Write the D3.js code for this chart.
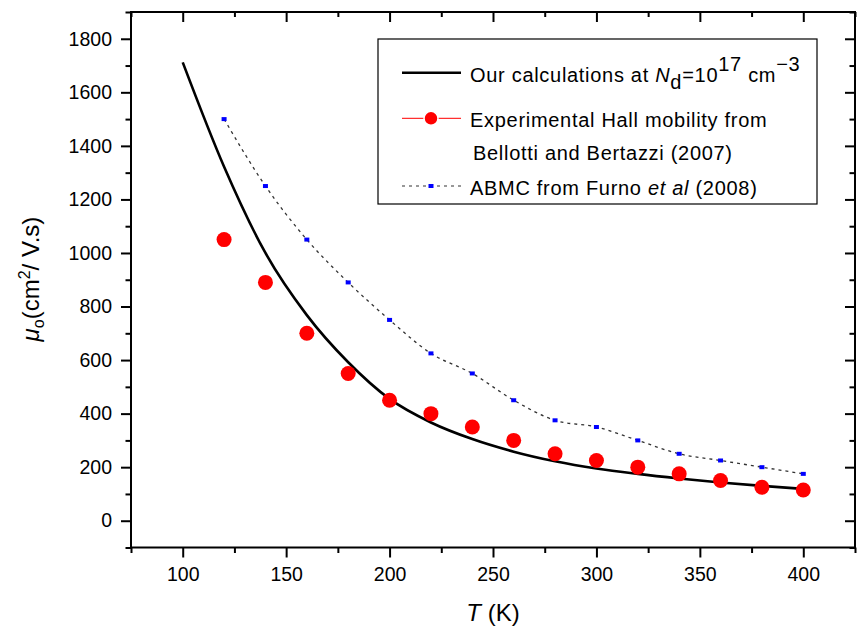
<!DOCTYPE html>
<html><head><meta charset="utf-8">
<script src="https://cdn.jsdelivr.net/npm/d3@7"></script>
<style>
body{margin:0;background:#fff}
text{font-family:"Liberation Sans",Arial,Helvetica,sans-serif;fill:#000}
</style>
</head><body>
<svg id="c" width="857" height="628"></svg>
<script>
// ---- data ----
const calcT  = [100,120,140,160,180,200,220,240,260,280,300,320,340,360,380,400];
const calcMu = [1712,1322,1000,768,592,455,367,305,258,222,195,175,158,143,130,119];
const hallT  = [120,140,160,180,200,220,240,260,280,300,320,340,360,380,400];
const hallMu = [1050,890,700,550,450,400,350,300,250,225,200,175,150,125,115];
const abmcT  = [120,140,160,180,200,220,240,260,280,300,320,340,360,380,400];
const abmcMu = [1500,1250,1050,890,750,625,550,450,375,350,300,250,225,200,175];
const xTicks = [100,150,200,250,300,350,400];
const xMinor = [75,125,175,225,275,325,375,425];
const yTicks = [0,200,400,600,800,1000,1200,1400,1600,1800];
const yMinor = [-100,100,300,500,700,900,1100,1300,1500,1700,1900];

const svg = d3.select("#c");
const L = 131, R = 855, T = 12, B = 547.5;
const x = d3.scaleLinear().domain([75,425]).range([L,R]);
const y = d3.scaleLinear().domain([-100,1900]).range([B,T]);

// axes
function styleAxis(g){ g.select(".domain").remove(); g.selectAll(".tick line").attr("stroke","#000").attr("stroke-width",2); }
const fs = "19.5px";
svg.append("g").attr("transform",`translate(0,${B})`)
  .call(d3.axisBottom(x).tickValues(xTicks).tickSize(10).tickPadding(10).tickFormat(d3.format("d")))
  .call(styleAxis).selectAll("text").style("font-size",fs).attr("fill","#000");
svg.append("g").attr("transform",`translate(0,${B})`)
  .call(d3.axisBottom(x).tickValues(xMinor).tickSize(5.5).tickFormat(""))
  .call(styleAxis);
svg.append("g").attr("transform",`translate(0,${T})`)
  .call(d3.axisBottom(x).tickValues(xTicks).tickSize(10).tickFormat(""))
  .call(styleAxis);
svg.append("g").attr("transform",`translate(0,${T})`)
  .call(d3.axisBottom(x).tickValues(xMinor).tickSize(5).tickFormat(""))
  .call(styleAxis);
svg.append("g").attr("transform",`translate(${L},0)`)
  .call(d3.axisLeft(y).tickValues(yTicks).tickSize(10).tickPadding(9).tickFormat(d3.format("d")))
  .call(styleAxis).selectAll("text").style("font-size",fs).attr("fill","#000");
svg.append("g").attr("transform",`translate(${L},0)`)
  .call(d3.axisLeft(y).tickValues(yMinor).tickSize(5.5).tickFormat(""))
  .call(styleAxis);
svg.append("g").attr("transform",`translate(${R},0)`)
  .call(d3.axisLeft(y).tickValues(yTicks).tickSize(10).tickFormat(""))
  .call(styleAxis);
svg.append("g").attr("transform",`translate(${R},0)`)
  .call(d3.axisLeft(y).tickValues(yMinor).tickSize(5.5).tickFormat(""))
  .call(styleAxis);

// frame
svg.append("rect").attr("x",L).attr("y",T).attr("width",R-L).attr("height",B-T)
  .attr("fill","none").attr("stroke","#000").attr("stroke-width",2);

// ABMC dotted line
const abmc = abmcT.map((t,i)=>[t,abmcMu[i]]);
svg.append("path").datum(abmc)
  .attr("d",d3.line().x(d=>x(d[0])).y(d=>y(d[1])).curve(d3.curveMonotoneX))
  .attr("fill","none").attr("stroke","#333").attr("stroke-width",1.3).attr("stroke-dasharray","3,4");
svg.selectAll(".sq").data(abmc).enter().append("rect")
  .attr("x",d=>x(d[0])-2.5).attr("y",d=>y(d[1])-2).attr("width",5).attr("height",4).attr("fill","#0000ff");

// calculation curve
const calc = calcT.map((t,i)=>[t,calcMu[i]]);
svg.append("path").datum(calc)
  .attr("d",d3.line().x(d=>x(d[0])).y(d=>y(d[1])).curve(d3.curveMonotoneX))
  .attr("fill","none").attr("stroke","#000").attr("stroke-width",2.6);

// Hall dots
const hall = hallT.map((t,i)=>[t,hallMu[i]]);
svg.selectAll(".dot").data(hall).enter().append("circle")
  .attr("cx",d=>x(d[0])).attr("cy",d=>y(d[1])).attr("r",7.5).attr("fill","#ff0000");

// legend
const lg = svg.append("g");
lg.append("rect").attr("x",378).attr("y",39).attr("width",439).attr("height",165)
  .attr("fill","#fff").attr("stroke","#000").attr("stroke-width",1.2);
const lfs = "20px", ls = "0.7px";
lg.append("line").attr("x1",402).attr("x2",461).attr("y1",72.7).attr("y2",72.7).attr("stroke","#000").attr("stroke-width",2.6);
lg.append("line").attr("x1",402).attr("x2",461).attr("y1",118.3).attr("y2",118.3).attr("stroke","#ff3030").attr("stroke-width",1.2);
lg.append("circle").attr("cx",431).attr("cy",118.3).attr("r",7).attr("fill","#ff0000").attr("stroke","#fff").attr("stroke-width",1.5);
lg.append("line").attr("x1",402).attr("x2",461).attr("y1",186).attr("y2",186).attr("stroke","#333").attr("stroke-width",1.2).attr("stroke-dasharray","3,4");
lg.append("rect").attr("x",428.5).attr("y",184).attr("width",5).attr("height",4).attr("fill","#0000ff");

const t1 = lg.append("text").attr("x",470).attr("y",82).style("font-size",lfs).style("letter-spacing",ls);
t1.append("tspan").text("Our calculations at ");
t1.append("tspan").style("font-style","italic").text("N");
t1.append("tspan").attr("dy",7).text("d");
t1.append("tspan").attr("dy",-7).text("=10");
t1.append("tspan").attr("dy",-11).text("17");
t1.append("tspan").attr("dy",11).text(" cm");
t1.append("tspan").attr("dy",-11).text("\u22123");
lg.append("text").attr("x",470).attr("y",126.7).style("font-size",lfs).style("letter-spacing",ls).text("Experimental Hall mobility from");
lg.append("text").attr("x",473).attr("y",160).style("font-size",lfs).style("letter-spacing",ls).text("Bellotti and Bertazzi (2007)");
const t4 = lg.append("text").attr("x",470).attr("y",195).style("font-size",lfs).style("letter-spacing",ls);
t4.append("tspan").text("ABMC from Furno ");
t4.append("tspan").style("font-style","italic").text("et al");
t4.append("tspan").text(" (2008)");

// axis titles
const xt = svg.append("text").attr("x",493).attr("y",621).attr("text-anchor","middle").style("font-size","24px");
xt.append("tspan").style("font-style","italic").text("T");
xt.append("tspan").text(" (K)");

const yt = svg.append("text").attr("transform","translate(39,279) rotate(-90)").attr("text-anchor","middle").style("font-size","24px");
yt.append("tspan").style("font-style","italic").text("\u03bc");
yt.append("tspan").attr("dy",5).style("font-size","16px").text("o");
yt.append("tspan").attr("dy",-5).text("(cm");
yt.append("tspan").attr("dy",-9).style("font-size","16px").text("2");
yt.append("tspan").attr("dy",9).text("/ V.s)");
</script>
</body></html>
